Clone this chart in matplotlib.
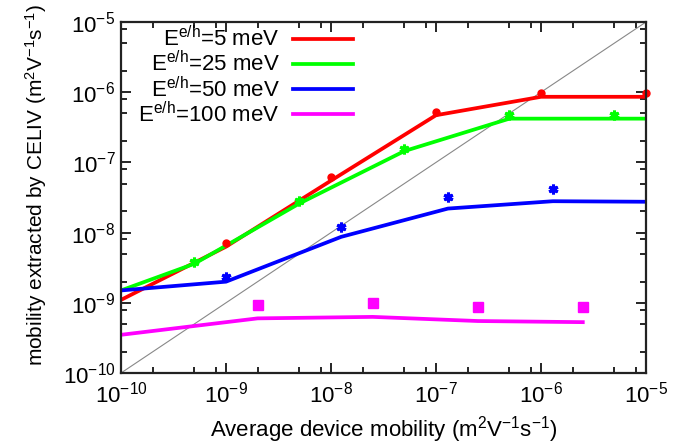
import matplotlib
matplotlib.use('Agg')
from matplotlib import pyplot as plt
from matplotlib.ticker import LogLocator, NullFormatter

# fitted curves (lines) and extracted points (markers)
x_5 = [1e-10, 1e-9, 1e-8, 1e-7, 1e-6, 1e-5]
fit_5 = [1.1e-9, 6.3e-9, 5.5e-8, 4.7e-7, 8.6e-7, 8.6e-7]
px_5 = [1e-9, 1e-8, 1e-7, 1e-6, 1e-5]
py_5 = [7e-9, 6.1e-8, 5.2e-7, 9.6e-7, 9.6e-7]

x_25 = [1e-10, 5e-10, 5e-9, 5e-8, 5e-7, 5e-6, 1e-5]
fit_25 = [1.5e-9, 3.6e-9, 2.6e-8, 1.45e-7, 4.2e-7, 4.2e-7, 4.2e-7]
px_25 = [5e-10, 5e-9, 5e-8, 5e-7, 5e-6]
py_25 = [3.8e-9, 2.8e-8, 1.55e-7, 4.8e-7, 4.8e-7]

x_50 = [1e-10, 1e-9, 1.25e-8, 1.3e-7, 1.3e-6, 1e-5]
fit_50 = [1.5e-9, 2.0e-9, 8.7e-9, 2.2e-8, 2.8e-8, 2.75e-8]
px_50 = [1e-9, 1.25e-8, 1.3e-7, 1.3e-6]
py_50 = [2.3e-9, 1.2e-8, 3.2e-8, 4.2e-8]

x_100 = [1e-10, 2e-9, 2.5e-8, 2.5e-7, 2.5e-6]
fit_100 = [3.5e-10, 6.0e-10, 6.3e-10, 5.5e-10, 5.3e-10]
px_100 = [2e-9, 2.5e-8, 2.5e-7, 2.5e-6]
py_100 = [9.3e-10, 1.0e-9, 8.7e-10, 8.7e-10]

diag = [1e-10, 1e-5]

plt.rcParams['font.family'] = ['Liberation Sans', 'DejaVu Sans']
plt.rcParams['mathtext.fontset'] = 'custom'
plt.rcParams['mathtext.rm'] = 'Liberation Sans'
plt.rcParams['mathtext.it'] = 'Liberation Sans'

fig = plt.figure(figsize=(6.82, 4.48), dpi=100)
ax = fig.add_axes([121 / 682, 1 - 373 / 448, 525 / 682, 351 / 448])

ax.plot(diag, diag, color='#888888', lw=0.8)

lw = 2.7
ax.plot(x_5, fit_5, color='#ff0000', lw=lw, label=r'E$^{\mathrm{e/h}}$=5 meV')
ax.plot(x_25, fit_25, color='#00ff00', lw=lw, label=r'E$^{\mathrm{e/h}}$=25 meV')
ax.plot(x_50, fit_50, color='#0000ff', lw=lw, label=r'E$^{\mathrm{e/h}}$=50 meV')
ax.plot(x_100, fit_100, color='#ff00ff', lw=lw, label=r'E$^{\mathrm{e/h}}$=100 meV')

ax.plot(px_5, py_5, 'o', color='#ff0000', ms=5, clip_on=False)
ax.plot(px_25, py_25, marker=(6, 2, 0), ls='none', color='#00ff00', ms=7, mew=2.2)
ax.plot(px_50, py_50, marker=(6, 2, 0), ls='none', color='#0000ff', ms=7, mew=2.2)
ax.plot(px_100, py_100, 's', color='#ff00ff', ms=7)

ax.set_xscale('log')
ax.set_yscale('log')
ax.set_xlim(1e-10, 1e-5)
ax.set_ylim(1e-10, 1e-5)

for axis in (ax.xaxis, ax.yaxis):
    axis.set_major_locator(LogLocator(base=10, numticks=10))
    axis.set_minor_locator(LogLocator(base=10, subs=[2, 5, 8], numticks=10))
    axis.set_minor_formatter(NullFormatter())

ax.tick_params(which='both', direction='in', top=True, right=True, labelsize=16)
ax.tick_params(which='major', length=7, width=1.2, pad=6)
ax.tick_params(which='minor', length=4, width=1.2)
ax.tick_params(axis='y', pad=4)
for s in ax.spines.values():
    s.set_linewidth(1.6)
    s.set_color('#222222')

ax.set_xlabel(r'Average device mobility (m$^2$V$^{-1}$s$^{-1}$)', fontsize=16)
ax.set_ylabel(r'mobility extracted by CELIV (m$^2$V$^{-1}$s$^{-1}$)', fontsize=15)
ax.xaxis.set_label_coords(0.5, -(430 - 373) / 351)
ax.yaxis.set_label_coords(-(121 - 36) / 525, (373 - 185) / 351)
ax.xaxis.label.set_va('center')
ax.yaxis.label.set_va('center')

ax.legend(loc='upper right', bbox_to_anchor=((357 - 121) / 525, 1.0),
          frameon=False, markerfirst=False, fontsize=16, handlelength=2.7,
          handletextpad=0.6, labelspacing=0.0, borderpad=0.0, borderaxespad=0.19)

fig.savefig('out.png', dpi=100)
